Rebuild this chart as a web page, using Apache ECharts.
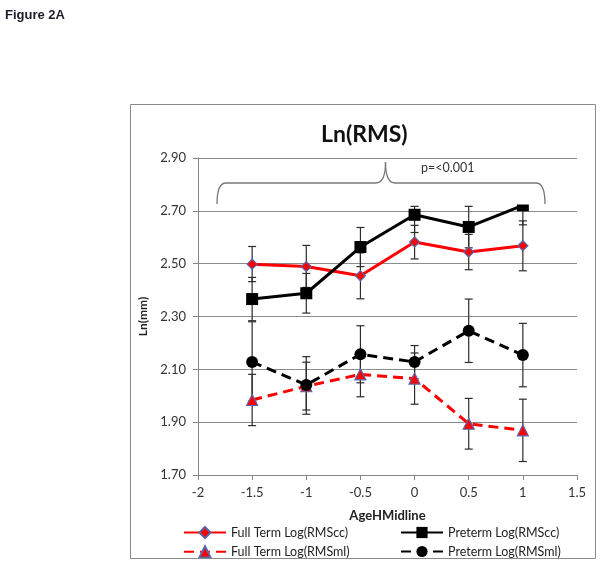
<!DOCTYPE html>
<html>
<head>
<meta charset="utf-8">
<script src="https://cdn.jsdelivr.net/npm/echarts@6/dist/echarts.min.js"></script>
<style>
html,body{margin:0;padding:0;background:#fff;}
#chart{width:601px;height:565px;}
</style>
</head>
<body>
<div id="chart"></div>
<script>
// ---- data ----
const xValues = [-1.5, -1, -0.5, 0, 0.5, 1];

const ftCc     = [2.498, 2.489, 2.454, 2.582, 2.544, 2.568];
const ftCcLow  = [2.432, 2.410, 2.367, 2.518, 2.477, 2.473];
const ftCcHigh = [2.565, 2.569, 2.541, 2.645, 2.611, 2.662];

const ptCc     = [2.366, 2.388, 2.563, 2.685, 2.639, 2.721];
const ptCcLow  = [2.284, 2.313, 2.489, 2.618, 2.560, 2.647];
const ptCcHigh = [2.448, 2.463, 2.637, 2.717, 2.717, 2.795];

const ftMl     = [1.984, 2.036, 2.081, 2.065, 1.894, 1.869];
const ftMlLow  = [1.887, 1.946, 1.996, 1.968, 1.798, 1.751];
const ftMlHigh = [2.081, 2.127, 2.166, 2.162, 1.990, 1.987];

const ptMl     = [2.128, 2.041, 2.157, 2.128, 2.246, 2.154];
const ptMlLow  = [1.980, 1.930, 2.049, 2.065, 2.126, 2.034];
const ptMlHigh = [2.280, 2.148, 2.265, 2.190, 2.366, 2.274];

const seriesNames = ['Full Term Log(RMScc)', 'Preterm Log(RMScc)', 'Full Term Log(RMSml)', 'Preterm Log(RMSml)'];
const chartTitle = 'Ln(RMS)';
const xName = 'AgeHMidline';
const yName = 'Ln(mm)';
const figureLabel = 'Figure 2A';
const pLabel = 'p=<0.001';

// ---- helpers ----
function pairs(vals) { return xValues.map((x, i) => [x, vals[i]]); }
function errData(lo, hi) { return xValues.map((x, i) => [x, lo[i], hi[i]]); }
function errSeries(lo, hi) {
  return {
    type: 'custom',
    z: 1,
    silent: true,
    data: errData(lo, hi),
    encode: { x: 0, y: [1, 2] },
    renderItem: function (params, api) {
      const x = api.value(0);
      const p1 = api.coord([x, api.value(1)]);
      const p2 = api.coord([x, api.value(2)]);
      const hw = 4;
      const st = { stroke: '#2b2b2b', lineWidth: 1.2, fill: null };
      return {
        type: 'group',
        children: [
          { type: 'line', shape: { x1: p1[0], y1: p1[1], x2: p2[0], y2: p2[1] }, style: st },
          { type: 'line', shape: { x1: p1[0] - hw, y1: p1[1], x2: p1[0] + hw, y2: p1[1] }, style: st },
          { type: 'line', shape: { x1: p2[0] - hw, y1: p2[1], x2: p2[0] + hw, y2: p2[1] }, style: st }
        ]
      };
    }
  };
}

const FONT = 'Lato, "Open Sans", sans-serif';
const chart = echarts.init(document.getElementById('chart'), null, { renderer: 'canvas' });

const markerBorder = '#5a66a8';

const option = {
  animation: false,
  backgroundColor: '#fff',
  title: {
    text: chartTitle,
    left: 316, top: 118,
    textStyle: { fontFamily: FONT, fontSize: 23, fontWeight: 'bold', color: '#111' }
  },
  grid: { left: 198, top: 158, width: 379, height: 317, containLabel: false },
  legend: [
    {
      data: [seriesNames[0], seriesNames[2]],
      orient: 'vertical', left: 178, top: 521,
      itemWidth: 42, itemHeight: 14, itemGap: 6,
      textStyle: { fontFamily: FONT, fontSize: 12.5, color: '#222' }
    },
    {
      data: [seriesNames[1], seriesNames[3]],
      orient: 'vertical', left: 395, top: 521,
      itemWidth: 42, itemHeight: 14, itemGap: 6,
      textStyle: { fontFamily: FONT, fontSize: 12.5, color: '#222' }
    }
  ],
  xAxis: {
    type: 'value', min: -2, max: 1.5, interval: 0.5,
    name: xName, nameLocation: 'middle', nameGap: 34,
    nameTextStyle: { fontFamily: FONT, fontSize: 13, fontWeight: 'bold', color: '#222' },
    axisLine: { show: true, onZero: false, lineStyle: { color: '#868686', width: 1 } },
    axisTick: { show: true, length: 5, inside: false, lineStyle: { color: '#868686' } },
    axisLabel: { fontFamily: FONT, fontSize: 13, color: '#333', margin: 11 },
    splitLine: { show: false }
  },
  yAxis: {
    type: 'value', min: 1.7, max: 2.9, interval: 0.2, position: 'left',
    name: yName, nameLocation: 'middle', nameGap: 41, nameRotate: 90,
    nameTextStyle: { fontFamily: FONT, fontSize: 12, fontWeight: 'bold', color: '#222' },
    axisLine: { show: true, onZero: false, lineStyle: { color: '#868686', width: 1 } },
    axisTick: { show: true, length: 5, inside: false, lineStyle: { color: '#868686' } },
    axisLabel: { fontFamily: FONT, fontSize: 13, color: '#333', margin: 12,
      formatter: v => v.toFixed(2) },
    splitLine: { show: true, lineStyle: { color: '#8c8c8c', width: 1 } }
  },
  series: [
    errSeries(ftCcLow, ftCcHigh),
    errSeries(ptCcLow, ptCcHigh),
    errSeries(ftMlLow, ftMlHigh),
    errSeries(ptMlLow, ptMlHigh),
    {
      name: seriesNames[0], type: 'line', z: 3, data: pairs(ftCc),
      symbol: 'diamond', symbolSize: 10, showAllSymbol: true,
      lineStyle: { color: '#ff0000', width: 3 },
      itemStyle: { color: '#ff0000', borderColor: markerBorder, borderWidth: 1.2 }
    },
    {
      name: seriesNames[1], type: 'line', z: 4, data: pairs(ptCc),
      symbol: 'rect', symbolSize: 12,
      lineStyle: { color: '#000', width: 3 },
      itemStyle: { color: '#000', borderColor: '#000', borderWidth: 0 }
    },
    {
      name: seriesNames[2], type: 'line', z: 3, data: pairs(ftMl),
      symbol: 'triangle', symbolSize: 11,
      lineStyle: { color: '#ff0000', width: 3, type: [10, 6] },
      itemStyle: { color: '#ff0000', borderColor: markerBorder, borderWidth: 1.2 }
    },
    {
      name: seriesNames[3], type: 'line', z: 4, data: pairs(ptMl),
      symbol: 'circle', symbolSize: 12,
      lineStyle: { color: '#000', width: 3, type: [10, 6] },
      itemStyle: { color: '#000', borderColor: '#000', borderWidth: 0 }
    }
  ],
  graphic: [
    { type: 'text', left: 5, top: 9, z: 100,
      style: { text: figureLabel, fontFamily: '"Liberation Sans", Arial, sans-serif', fontSize: 13, fontWeight: 'bold', fill: '#1e1e2a' } },
    { type: 'rect', z: 90, shape: { x: 130.5, y: 104.5, width: 465, height: 454 },
      style: { fill: null, stroke: '#8a8a8a', lineWidth: 1 } },
    // white text-box of the annotation (covers the top of the plot on the right)
    { type: 'rect', z: 95, shape: { x: 395, y: 174, width: 170, height: 30.5 },
      style: { fill: '#fff', stroke: null } },
    // curly brace
    { type: 'bezierCurve', z: 100, shape: { x1: 217, y1: 204, cpx1: 217, cpy1: 183, x2: 226, y2: 183 },
      style: { stroke: '#777', lineWidth: 1.3, fill: null } },
    { type: 'line', z: 100, shape: { x1: 226, y1: 183, x2: 376, y2: 183 },
      style: { stroke: '#777', lineWidth: 1.3 } },
    { type: 'bezierCurve', z: 100, shape: { x1: 376, y1: 183, cpx1: 385.5, cpy1: 183, x2: 385.5, y2: 162 },
      style: { stroke: '#777', lineWidth: 1.3, fill: null } },
    { type: 'bezierCurve', z: 100, shape: { x1: 385.5, y1: 162, cpx1: 385.5, cpy1: 183, x2: 395, y2: 183 },
      style: { stroke: '#777', lineWidth: 1.3, fill: null } },
    { type: 'line', z: 100, shape: { x1: 395, y1: 183, x2: 536, y2: 183 },
      style: { stroke: '#777', lineWidth: 1.3 } },
    { type: 'bezierCurve', z: 100, shape: { x1: 536, y1: 183, cpx1: 545, cpy1: 183, x2: 545, y2: 204 },
      style: { stroke: '#777', lineWidth: 1.3, fill: null } },
    { type: 'text', z: 100, left: 421, top: 161,
      style: { text: pLabel, fontFamily: FONT, fontSize: 12.5, fill: '#333' } }
  ]
};
chart.setOption(option);
</script>
</body>
</html>
